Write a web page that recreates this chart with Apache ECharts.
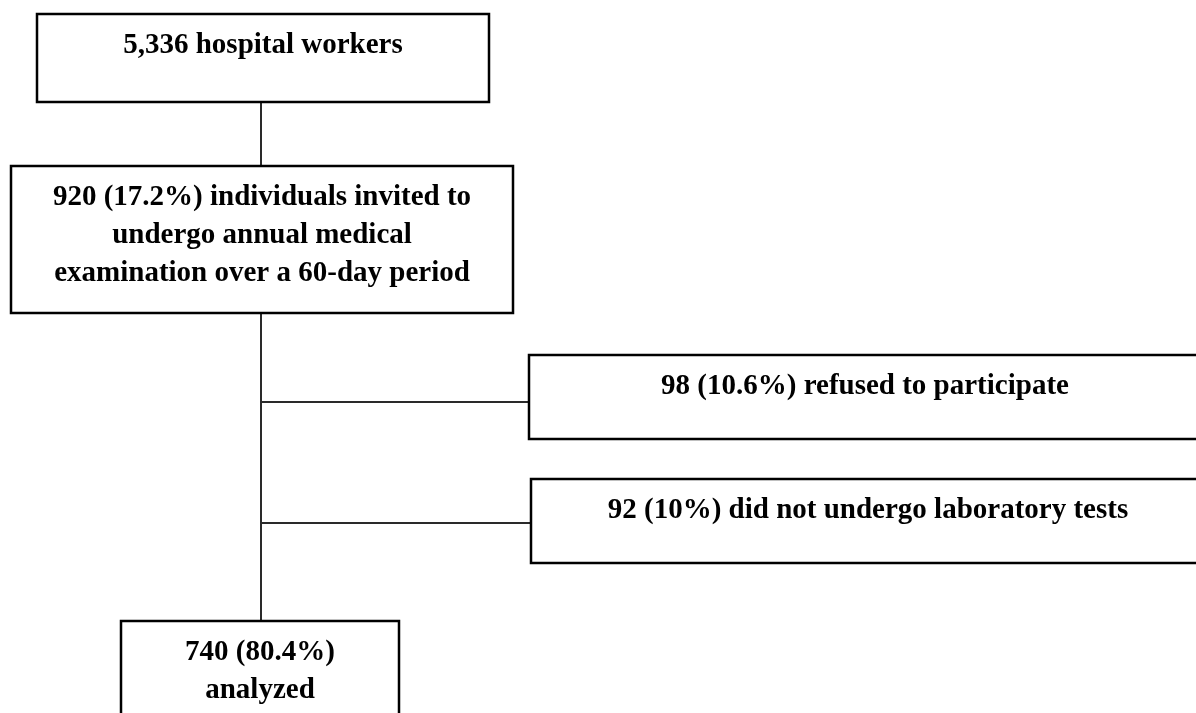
<!DOCTYPE html>
<html>
<head>
<meta charset="utf-8">
<title>Study flow</title>
<script src="https://cdn.jsdelivr.net/npm/echarts@6/dist/echarts.min.js"></script>
<style>
  html, body { margin: 0; padding: 0; background: #fff; }
  #chart { width: 1196px; height: 713px; }
</style>
</head>
<body>
<div id="chart"></div>
<script>
// flow stages: counts, percentages and what happened to them
const counts = [5336, 920, 98, 92, 740];
const percents = [null, 17.2, 10.6, 10, 80.4];
const descriptions = [
    'hospital workers',
    'individuals invited to\nundergo annual medical\nexamination over a 60-day period',
    'refused to participate',
    'did not undergo laboratory tests',
    'analyzed'
];
const breakAfterCount = [false, false, false, false, true];

// layout in page units (x0, y0, x1, y1), drawn through hidden axes
const boxLayout = [
    [37, 14, 489, 102],
    [11, 166, 513, 313],
    [529, 355, 1201, 439],
    [531, 479, 1205, 563],
    [121, 621, 399, 740]
];
const connectorLayout = [
    [261, 102, 261, 166],
    [261, 313, 261, 621],
    [261, 402, 529, 402],
    [261, 523, 531, 523]
];

function stageLabel(i) {
    let head = counts[i].toLocaleString('en-US');
    if (percents[i] !== null) head += ' (' + percents[i] + '%)';
    return head + (breakAfterCount[i] ? '\n' : ' ') + descriptions[i];
}

const chart = echarts.init(document.getElementById('chart'));

chart.setOption({
    animation: false,
    backgroundColor: '#fff',
    grid: { left: 0, right: 0, top: 0, bottom: 0 },
    xAxis: { type: 'value', min: 0, max: 1196, show: false },
    yAxis: { type: 'value', min: 0, max: 713, inverse: true, show: false },
    series: [
        {
            type: 'custom',
            silent: true,
            data: connectorLayout,
            renderItem: function (params, api) {
                const a = api.coord([api.value(0), api.value(1)]);
                const b = api.coord([api.value(2), api.value(3)]);
                return {
                    type: 'line',
                    shape: { x1: a[0], y1: a[1], x2: b[0], y2: b[1] },
                    style: { stroke: '#2a2a2a', lineWidth: 2 }
                };
            }
        },
        {
            type: 'custom',
            silent: true,
            data: boxLayout,
            renderItem: function (params, api) {
                const p0 = api.coord([api.value(0), api.value(1)]);
                const p1 = api.coord([api.value(2), api.value(3)]);
                return {
                    type: 'group',
                    children: [
                        {
                            type: 'rect',
                            shape: { x: p0[0], y: p0[1], width: p1[0] - p0[0], height: p1[1] - p0[1] },
                            style: { fill: '#fff', stroke: '#000', lineWidth: 2.5 }
                        },
                        {
                            type: 'text',
                            style: {
                                text: stageLabel(params.dataIndex),
                                x: (p0[0] + p1[0]) / 2,
                                y: p0[1] + 13,
                                align: 'center',
                                verticalAlign: 'top',
                                fontFamily: '"Liberation Serif", "Times New Roman", serif',
                                fontWeight: 'bold',
                                fontSize: 29,
                                lineHeight: 38,
                                fill: '#000'
                            }
                        }
                    ]
                };
            }
        }
    ]
});

window.addEventListener('resize', () => chart.resize());
</script>
</body>
</html>
